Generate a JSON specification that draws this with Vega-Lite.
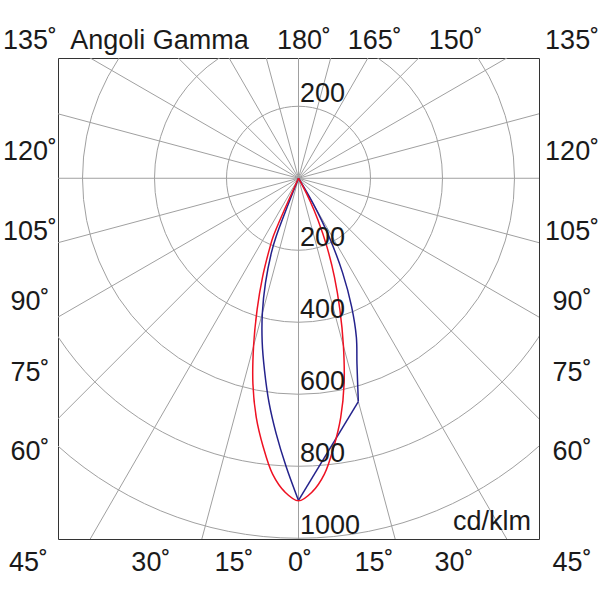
{
  "$schema": "https://vega.github.io/schema/vega-lite/v6.json",
  "width": 481,
  "height": 481,
  "autosize": {"type": "none"},
  "padding": {"left": 58, "top": 58, "right": 61, "bottom": 61},
  "background": "white",
  "config": {
    "view": {"stroke": "#333333", "strokeWidth": 1},
    "text": {"font": "Liberation Sans", "fontSize": 27, "color": "#1a1a1a", "baseline": "middle"}
  },
  "datasets": {
    "rings": [{"r": 200}, {"r": 400}, {"r": 600}, {"r": 800}, {"r": 1000}],
    "spokes": [
      {"a": 0}, {"a": 15}, {"a": 30}, {"a": 45}, {"a": 60}, {"a": 75},
      {"a": 90}, {"a": 105}, {"a": 120}, {"a": 135}, {"a": 150}, {"a": 165},
      {"a": 180}, {"a": 195}, {"a": 210}, {"a": 225}, {"a": 240}, {"a": 255},
      {"a": 270}, {"a": 285}, {"a": 300}, {"a": 315}, {"a": 330}, {"a": 345}
    ],
    "curves": [
      {"plane": "C0-C180", "g": -24, "cd": 0},
      {"plane": "C0-C180", "g": -23.5, "cd": 175},
      {"plane": "C0-C180", "g": -22.5, "cd": 207},
      {"plane": "C0-C180", "g": -20, "cd": 292},
      {"plane": "C0-C180", "g": -17.5, "cd": 382},
      {"plane": "C0-C180", "g": -15, "cd": 482},
      {"plane": "C0-C180", "g": -12.5, "cd": 585},
      {"plane": "C0-C180", "g": -10, "cd": 675},
      {"plane": "C0-C180", "g": -7.5, "cd": 752},
      {"plane": "C0-C180", "g": -5, "cd": 825},
      {"plane": "C0-C180", "g": -2.5, "cd": 872},
      {"plane": "C0-C180", "g": 0, "cd": 896},
      {"plane": "C0-C180", "g": 2.5, "cd": 872},
      {"plane": "C0-C180", "g": 5, "cd": 825},
      {"plane": "C0-C180", "g": 7.5, "cd": 752},
      {"plane": "C0-C180", "g": 10, "cd": 675},
      {"plane": "C0-C180", "g": 12.5, "cd": 585},
      {"plane": "C0-C180", "g": 15, "cd": 482},
      {"plane": "C0-C180", "g": 17.5, "cd": 382},
      {"plane": "C0-C180", "g": 20, "cd": 292},
      {"plane": "C0-C180", "g": 22.5, "cd": 207},
      {"plane": "C0-C180", "g": 25, "cd": 128},
      {"plane": "C0-C180", "g": 27, "cd": 70},
      {"plane": "C0-C180", "g": 29, "cd": 20},
      {"plane": "C0-C180", "g": 30, "cd": 0},
      {"plane": "C90-C270", "g": -21.01, "cd": 0},
      {"plane": "C90-C270", "g": -21, "cd": 174},
      {"plane": "C90-C270", "g": -20, "cd": 220},
      {"plane": "C90-C270", "g": -17.5, "cd": 305},
      {"plane": "C90-C270", "g": -15, "cd": 388},
      {"plane": "C90-C270", "g": -12.5, "cd": 466},
      {"plane": "C90-C270", "g": -10, "cd": 543},
      {"plane": "C90-C270", "g": -7.5, "cd": 628},
      {"plane": "C90-C270", "g": -5, "cd": 712},
      {"plane": "C90-C270", "g": -2.5, "cd": 800},
      {"plane": "C90-C270", "g": 0, "cd": 895},
      {"plane": "C90-C270", "g": 15, "cd": 642},
      {"plane": "C90-C270", "g": 17.5, "cd": 540},
      {"plane": "C90-C270", "g": 20, "cd": 470},
      {"plane": "C90-C270", "g": 22.5, "cd": 385},
      {"plane": "C90-C270", "g": 25, "cd": 290},
      {"plane": "C90-C270", "g": 27.5, "cd": 187},
      {"plane": "C90-C270", "g": 30, "cd": 80},
      {"plane": "C90-C270", "g": 32, "cd": 0}
    ],
    "labels": [
      {"t": "135˚", "x": -746, "y": 381},
      {"t": "Angoli Gamma", "x": -386, "y": 381},
      {"t": "180˚", "x": 15, "y": 381},
      {"t": "165˚", "x": 212, "y": 381},
      {"t": "150˚", "x": 437, "y": 381},
      {"t": "135˚", "x": 760, "y": 381},
      {"t": "120˚", "x": -746, "y": 73},
      {"t": "105˚", "x": -746, "y": -149},
      {"t": "90˚", "x": -746, "y": -344},
      {"t": "75˚", "x": -746, "y": -541},
      {"t": "60˚", "x": -746, "y": -760},
      {"t": "120˚", "x": 760, "y": 73},
      {"t": "105˚", "x": 760, "y": -149},
      {"t": "90˚", "x": 760, "y": -344},
      {"t": "75˚", "x": 760, "y": -541},
      {"t": "60˚", "x": 760, "y": -760},
      {"t": "45˚", "x": -750, "y": -1069},
      {"t": "30˚", "x": -410, "y": -1069},
      {"t": "15˚", "x": -179, "y": -1069},
      {"t": "0˚", "x": 4, "y": -1069},
      {"t": "15˚", "x": 210, "y": -1069},
      {"t": "30˚", "x": 432, "y": -1069},
      {"t": "45˚", "x": 760, "y": -1069}
    ]
  },
  "layer": [
    {
      "data": {"name": "spokes"},
      "transform": [
        {"calculate": "0", "as": "ox"},
        {"calculate": "2000 * sin(datum.a * PI / 180)", "as": "ex"},
        {"calculate": "-2000 * cos(datum.a * PI / 180)", "as": "ey"}
      ],
      "mark": {"type": "rule", "clip": true, "stroke": "#a0a0a0", "strokeWidth": 1},
      "encoding": {
        "x": {"field": "ox", "type": "quantitative", "scale": {"domain": [-668, 668], "nice": false, "zero": false}, "axis": null},
        "y": {"field": "ox", "type": "quantitative", "scale": {"domain": [-1002, 334], "nice": false, "zero": false}, "axis": null},
        "x2": {"field": "ex"},
        "y2": {"field": "ey"}
      }
    },
    {
      "data": {"name": "rings"},
      "transform": [{"calculate": "0", "as": "ox"}],
      "mark": {"type": "point", "shape": "circle", "filled": false, "clip": true, "stroke": "#a0a0a0", "strokeWidth": 1, "opacity": 1},
      "encoding": {
        "x": {"field": "ox", "type": "quantitative", "scale": {"domain": [-668, 668], "nice": false, "zero": false}, "axis": null},
        "y": {"field": "ox", "type": "quantitative", "scale": {"domain": [-1002, 334], "nice": false, "zero": false}, "axis": null},
        "size": {"field": "r", "type": "quantitative", "scale": {"type": "pow", "exponent": 2, "domain": [0, 1000], "range": [0, 518400]}, "legend": null}
      }
    },
    {
      "data": {"name": "curves"},
      "transform": [
        {"filter": "datum.plane == 'C90-C270' && datum.g <= 0"},
        {"calculate": "datum.cd * sin(datum.g * PI / 180)", "as": "px"},
        {"calculate": "-datum.cd * cos(datum.g * PI / 180)", "as": "py"}
      ],
      "mark": {"type": "line", "interpolate": "catmull-rom", "stroke": "#24228c", "strokeWidth": 1.5, "clip": true},
      "encoding": {
        "x": {"field": "px", "type": "quantitative", "scale": {"domain": [-668, 668], "nice": false, "zero": false}, "axis": null},
        "y": {"field": "py", "type": "quantitative", "scale": {"domain": [-1002, 334], "nice": false, "zero": false}, "axis": null},
        "order": {"field": "g", "type": "quantitative"}
      }
    },
    {
      "data": {"name": "curves"},
      "transform": [
        {"filter": "datum.plane == 'C90-C270' && datum.g >= 0 && datum.g <= 15"},
        {"calculate": "datum.cd * sin(datum.g * PI / 180)", "as": "px"},
        {"calculate": "-datum.cd * cos(datum.g * PI / 180)", "as": "py"}
      ],
      "mark": {"type": "line", "interpolate": "linear", "stroke": "#24228c", "strokeWidth": 1.5, "clip": true},
      "encoding": {
        "x": {"field": "px", "type": "quantitative", "scale": {"domain": [-668, 668], "nice": false, "zero": false}, "axis": null},
        "y": {"field": "py", "type": "quantitative", "scale": {"domain": [-1002, 334], "nice": false, "zero": false}, "axis": null},
        "order": {"field": "g", "type": "quantitative"}
      }
    },
    {
      "data": {"name": "curves"},
      "transform": [
        {"filter": "datum.plane == 'C90-C270' && datum.g >= 15"},
        {"calculate": "datum.cd * sin(datum.g * PI / 180)", "as": "px"},
        {"calculate": "-datum.cd * cos(datum.g * PI / 180)", "as": "py"}
      ],
      "mark": {"type": "line", "interpolate": "catmull-rom", "stroke": "#24228c", "strokeWidth": 1.5, "clip": true},
      "encoding": {
        "x": {"field": "px", "type": "quantitative", "scale": {"domain": [-668, 668], "nice": false, "zero": false}, "axis": null},
        "y": {"field": "py", "type": "quantitative", "scale": {"domain": [-1002, 334], "nice": false, "zero": false}, "axis": null},
        "order": {"field": "g", "type": "quantitative"}
      }
    },
    {
      "data": {"name": "curves"},
      "transform": [
        {"filter": "datum.plane == 'C0-C180'"},
        {"calculate": "datum.cd * sin(datum.g * PI / 180)", "as": "px"},
        {"calculate": "-datum.cd * cos(datum.g * PI / 180)", "as": "py"}
      ],
      "mark": {"type": "line", "interpolate": "catmull-rom", "stroke": "#ee1122", "strokeWidth": 1.5, "clip": true},
      "encoding": {
        "x": {"field": "px", "type": "quantitative", "scale": {"domain": [-668, 668], "nice": false, "zero": false}, "axis": null},
        "y": {"field": "py", "type": "quantitative", "scale": {"domain": [-1002, 334], "nice": false, "zero": false}, "axis": null},
        "order": {"field": "g", "type": "quantitative"}
      }
    },
    {
      "data": {"name": "rings"},
      "transform": [{"calculate": "-datum.r", "as": "ny"}, {"calculate": "4", "as": "tx"}],
      "mark": {"type": "text", "align": "left", "dy": -12.5},
      "encoding": {
        "x": {"field": "tx", "type": "quantitative"},
        "y": {"field": "ny", "type": "quantitative"},
        "text": {"field": "r", "type": "nominal"}
      }
    },
    {
      "data": {"name": "rings"},
      "transform": [{"filter": "datum.r == 200"}, {"calculate": "4", "as": "tx"}],
      "mark": {"type": "text", "align": "left", "dy": -12.5},
      "encoding": {
        "x": {"field": "tx", "type": "quantitative"},
        "y": {"field": "r", "type": "quantitative"},
        "text": {"field": "r", "type": "nominal"}
      }
    },
    {
      "data": {"name": "labels"},
      "mark": {"type": "text", "align": "center"},
      "encoding": {
        "x": {"field": "x", "type": "quantitative"},
        "y": {"field": "y", "type": "quantitative"},
        "text": {"field": "t", "type": "nominal"}
      }
    },
    {
      "data": {"values": [{"t": "cd/klm", "x": 646, "y": -955}]},
      "mark": {"type": "text", "align": "right"},
      "encoding": {
        "x": {"field": "x", "type": "quantitative"},
        "y": {"field": "y", "type": "quantitative"},
        "text": {"field": "t", "type": "nominal"}
      }
    }
  ]
}
